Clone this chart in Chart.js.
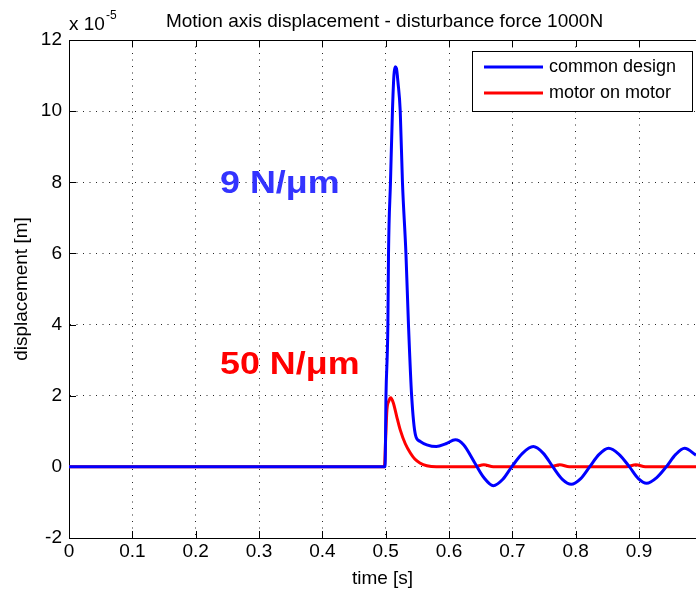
<!DOCTYPE html>
<html><head><meta charset="utf-8">
<script src="https://cdn.jsdelivr.net/npm/chart.js@4"></script>
<style>html,body{margin:0;padding:0;overflow:hidden;background:#fff}#wrap{width:696px;height:592px;position:relative}</style>
</head><body><div id="wrap"><canvas id="c" width="696" height="592"></canvas></div>
<script>
const chartTitle = 'Motion axis displacement - disturbance force 1000N';
const xTitle = 'time [s]';
const yTitle = 'displacement [m]';
const yExponentBase = 'x 10';
const yExponent = '-5';
const seriesNames = ['common design', 'motor on motor'];
const annotationTexts = ['9 N/μm', '50 N/μm'];
const annotationAnchorX = [0.2385, 0.2385];
const annotationAnchorY = [7.7, 2.6];

const xTicks = [0, 0.1, 0.2, 0.3, 0.4, 0.5, 0.6, 0.7, 0.8, 0.9];
const yTicks = [-2, 0, 2, 4, 6, 8, 10, 12];

const commonTime = [0, 0.499, 0.5005, 0.5035, 0.5045, 0.5076, 0.5107, 0.513, 0.515, 0.517, 0.5195, 0.523, 0.5265, 0.532, 0.536, 0.541, 0.547, 0.554, 0.565, 0.58, 0.595, 0.61, 0.623, 0.641, 0.655, 0.67, 0.685, 0.699, 0.716, 0.733, 0.749, 0.764, 0.779, 0.793, 0.808, 0.822, 0.837, 0.852, 0.868, 0.885, 0.899, 0.912, 0.928, 0.943, 0.958, 0.972, 0.99];
const commonDisp = [0, 0, 2, 4, 6, 8, 10, 11.0, 11.25, 11.2, 10.8, 10, 8, 6, 4, 2, 0.9, 0.72, 0.62, 0.57, 0.65, 0.76, 0.62, 0.1, -0.3, -0.53, -0.35, 0, 0.38, 0.57, 0.38, 0, -0.35, -0.49, -0.33, 0, 0.35, 0.52, 0.36, 0, -0.33, -0.46, -0.3, 0, 0.35, 0.52, 0.33];

const motorTime = [0, 0.498, 0.5, 0.502, 0.505, 0.508, 0.512, 0.517, 0.523, 0.531, 0.539, 0.546, 0.554, 0.565, 0.58, 0.64, 0.655, 0.67, 0.76, 0.775, 0.79, 0.88, 0.895, 0.91, 0.99];
const motorDisp = [0, 0, 0.8, 1.6, 1.85, 1.94, 1.8, 1.45, 1.04, 0.65, 0.39, 0.22, 0.11, 0.03, 0, 0, 0.06, 0, 0, 0.06, 0, 0, 0.06, 0, 0];

const FONT = "'Liberation Sans', Arial, Helvetica, sans-serif";
const seriesColors = ['#0000ff', '#ff0000'];
const annotationColors = ['#3333ff', '#ff0000'];

const toXY = (xs, ys) => xs.map((x, i) => ({x: x, y: ys[i]}));

const framePlugin = {
  id: 'frame',
  beforeDatasetsDraw(chart) {
    const {ctx, chartArea: a, scales} = chart;
    ctx.save();
    ctx.strokeStyle = '#000';
    ctx.lineWidth = 1;
    // top border
    ctx.beginPath();
    ctx.moveTo(a.left, a.top + 0.5); ctx.lineTo(a.right, a.top + 0.5);
    ctx.stroke();
    // inner tick marks
    const L = 7;
    ctx.beginPath();
    xTicks.forEach(v => {
      const px = Math.round(scales.x.getPixelForValue(v)) + 0.5;
      ctx.moveTo(px, a.bottom); ctx.lineTo(px, a.bottom - L);
      ctx.moveTo(px, a.top); ctx.lineTo(px, a.top + L);
    });
    yTicks.forEach(v => {
      const py = Math.round(scales.y.getPixelForValue(v)) + 0.5;
      ctx.moveTo(a.left, py); ctx.lineTo(a.left + L, py);
    });
    ctx.stroke();
    ctx.restore();
  },
  afterDraw(chart) {
    const {ctx, chartArea: a, scales} = chart;
    ctx.save();
    // title
    ctx.fillStyle = '#000';
    ctx.font = '19px ' + FONT;
    ctx.textAlign = 'center';
    ctx.textBaseline = 'alphabetic';
    ctx.fillText(chartTitle, (a.left + a.right) / 2 + 2, 27);
    // exponent
    ctx.textAlign = 'left';
    ctx.fillText(yExponentBase, a.left, 30);
    const w = ctx.measureText(yExponentBase).width;
    ctx.font = '12px ' + FONT;
    ctx.fillText(yExponent, a.left + w + 1, 19);
    // annotations
    annotationTexts.forEach((t, i) => {
      const px = scales.x.getPixelForValue(annotationAnchorX[i]);
      const py = scales.y.getPixelForValue(annotationAnchorY[i]);
      ctx.save();
      ctx.translate(px, py);
      ctx.scale(1.12, 1);
      ctx.font = 'bold 32px ' + FONT;
      ctx.fillStyle = annotationColors[i];
      ctx.textAlign = 'left';
      ctx.fillText(t, 0, 0);
      ctx.restore();
    });
    // legend
    const bx = 472.5, by = 51.5, bw = 220, bh = 60;
    ctx.fillStyle = '#fff';
    ctx.fillRect(bx, by, bw, bh);
    ctx.strokeStyle = '#000';
    ctx.lineWidth = 1;
    ctx.strokeRect(bx, by, bw, bh);
    ctx.font = '18px ' + FONT;
    ctx.textBaseline = 'middle';
    const rows = [67, 93];
    seriesNames.forEach((n, i) => {
      ctx.strokeStyle = seriesColors[i];
      ctx.lineWidth = 3;
      ctx.beginPath();
      ctx.moveTo(484, rows[i]); ctx.lineTo(543, rows[i]);
      ctx.stroke();
      ctx.fillStyle = '#000';
      ctx.fillText(n, 549, rows[i]);
    });
    ctx.restore();
  }
};

new Chart(document.getElementById('c'), {
  type: 'line',
  data: {
    datasets: [
      {label: seriesNames[0], data: toXY(commonTime, commonDisp), borderColor: seriesColors[0], borderWidth: 3, pointRadius: 0, cubicInterpolationMode: 'monotone', fill: false},
      {label: seriesNames[1], data: toXY(motorTime, motorDisp), borderColor: seriesColors[1], borderWidth: 3, pointRadius: 0, cubicInterpolationMode: 'monotone', fill: false}
    ]
  },
  options: {
    responsive: false,
    animation: false,
    devicePixelRatio: 1,
    layout: {padding: {top: 40, left: 0, right: 0, bottom: 0}},
    plugins: {legend: {display: false}, tooltip: {enabled: false}, title: {display: false}},
    scales: {
      x: {
        type: 'linear', min: 0, max: 0.99,
        afterFit: s => { s.height = 54; },
        afterBuildTicks: s => { s.ticks = xTicks.map(v => ({value: v})); },
        ticks: {font: {size: 19, family: FONT}, color: '#000', padding: 2, maxRotation: 0, autoSkip: false, callback: v => String(v)},
        grid: {color: 'rgba(0,0,0,0.85)', lineWidth: 1, drawTicks: false},
        border: {display: true, color: '#000', width: 1, dash: [1, 5.5]},
        title: {display: true, text: xTitle, font: {size: 19, family: FONT}, color: '#000', padding: {top: 0, bottom: 2}}
      },
      y: {
        type: 'linear', min: -2, max: 12,
        afterFit: s => { s.width = 69; },
        afterBuildTicks: s => { s.ticks = yTicks.map(v => ({value: v})); },
        ticks: {font: {size: 19, family: FONT}, color: '#000', padding: 7, autoSkip: false, callback: v => String(v)},
        grid: {color: 'rgba(0,0,0,0.85)', lineWidth: 1, drawTicks: false},
        border: {display: true, color: '#000', width: 1, dash: [1, 5.5]},
        title: {display: true, text: yTitle, font: {size: 19, family: FONT}, color: '#000', padding: {top: 10, bottom: 0}}
      }
    }
  },
  plugins: [framePlugin]
});
</script>
</body></html>
